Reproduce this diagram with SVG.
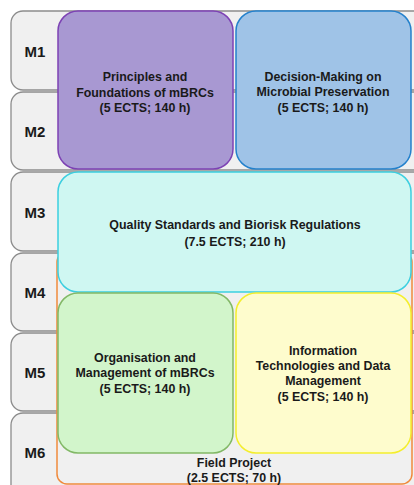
<svg xmlns="http://www.w3.org/2000/svg" width="414" height="485" viewBox="0 0 414 485">
<style>
.row{fill:#f0f0f0;stroke:#8c8c8c;stroke-width:1.3}
.ml{font-family:"Liberation Sans",Arial,sans-serif;font-weight:bold;font-size:15px;fill:#1a1a1a;text-anchor:middle}
.t{font-family:"Liberation Sans",Arial,sans-serif;font-weight:bold;font-size:12.4px;fill:#1a1a1a;text-anchor:middle}
</style>
<rect width="414" height="485" fill="#ffffff"/>
<g id="rows">
<g id="row-M1"><rect class="row" x="11" y="11" width="420" height="79" rx="12"/><text class="ml" x="35" y="57">M1</text></g>
<g id="row-M2"><rect class="row" x="11" y="92" width="420" height="78" rx="12"/><text class="ml" x="35" y="137">M2</text></g>
<g id="row-M3"><rect class="row" x="11" y="172" width="420" height="79" rx="12"/><text class="ml" x="35" y="218">M3</text></g>
<g id="row-M4"><rect class="row" x="11" y="253" width="420" height="78" rx="12"/><text class="ml" x="35" y="298">M4</text></g>
<g id="row-M5"><rect class="row" x="11" y="333" width="420" height="78" rx="12"/><text class="ml" x="35" y="378">M5</text></g>
<g id="row-M6"><rect class="row" x="11" y="413" width="420" height="90" rx="12"/><text class="ml" x="35" y="458">M6</text></g>
</g>
<g id="field-project">
<rect x="57" y="252" width="355" height="232" rx="10" fill="#f0f0f0" stroke="#f08a3c" stroke-width="1.5"/>
<text class="t" x="234" y="467">Field Project</text>
<text class="t" x="234" y="482">(2.5 ECTS; 70 h)</text>
</g>
<g id="quality">
<rect x="58" y="172" width="353" height="120" rx="20" fill="#cff7f2" stroke="#3ccfe0" stroke-width="1.5"/>
<text class="t" x="235" y="229">Quality Standards and Biorisk Regulations</text>
<text class="t" x="235" y="246">(7.5 ECTS; 210 h)</text>
</g>
<g id="principles">
<rect x="58" y="11" width="175" height="158" rx="20" fill="#a898d2" stroke="#7d42b4" stroke-width="1.5"/>
<text class="t" x="145" y="81">Principles and</text>
<text class="t" x="145" y="97">Foundations of mBRCs</text>
<text class="t" x="145" y="112">(5 ECTS; 140 h)</text>
</g>
<g id="decision">
<rect x="236" y="11" width="175" height="158" rx="20" fill="#9fc3e7" stroke="#2481cc" stroke-width="1.5"/>
<text class="t" x="323" y="81">Decision-Making on</text>
<text class="t" x="323" y="96">Microbial Preservation</text>
<text class="t" x="323" y="112">(5 ECTS; 140 h)</text>
</g>
<g id="organisation">
<rect x="58" y="293" width="175" height="160" rx="20" fill="#d2f5cb" stroke="#82b866" stroke-width="1.5"/>
<text class="t" x="145" y="362">Organisation and</text>
<text class="t" x="145" y="377">Management of mBRCs</text>
<text class="t" x="145" y="393">(5 ECTS; 140 h)</text>
</g>
<g id="information">
<rect x="236" y="293" width="175" height="160" rx="20" fill="#fefccd" stroke="#f4ee2c" stroke-width="1.5"/>
<text class="t" x="323" y="355">Information</text>
<text class="t" x="323" y="370">Technologies and Data</text>
<text class="t" x="323" y="385">Management</text>
<text class="t" x="323" y="401">(5 ECTS; 140 h)</text>
</g>
<g id="connectors"></g>
</svg>
